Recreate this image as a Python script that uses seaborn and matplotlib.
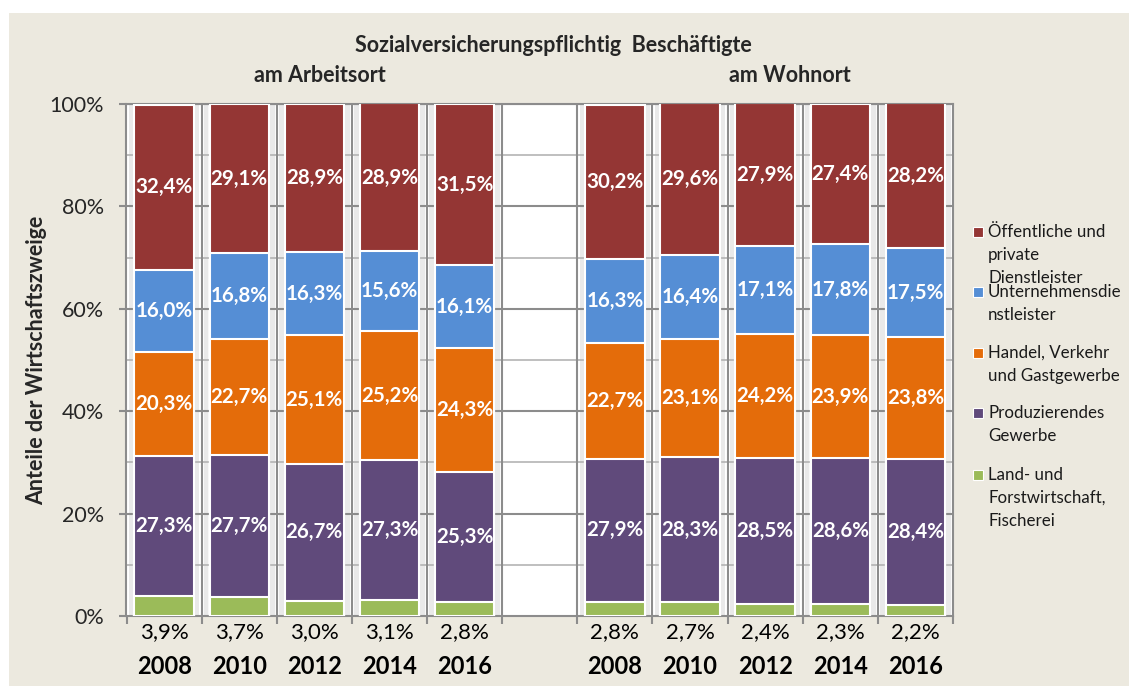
import matplotlib
matplotlib.use("Agg")
import matplotlib.pyplot as plt
from matplotlib.patches import Rectangle
import numpy as np
import pandas as pd
import seaborn as sns

# Shares of employment by economic sector (percent), workplace vs. residence
years = ["2008", "2010", "2012", "2014", "2016"]
groups = ["am Arbeitsort", "am Wohnort"]
sectors = [
    "Land- und\nForstwirtschaft,\nFischerei",
    "Produzierendes\nGewerbe",
    "Handel, Verkehr\nund Gastgewerbe",
    "Unternehmensdie\nnstleister",
    "Öffentliche und\nprivate\nDienstleister",
]
colors = ["#9BBB59", "#604A7B", "#E46C0A", "#558ED5", "#943634"]

agri_arbeit = [3.9, 3.7, 3.0, 3.1, 2.8]
prod_arbeit = [27.3, 27.7, 26.7, 27.3, 25.3]
handel_arbeit = [20.3, 22.7, 25.1, 25.2, 24.3]
unter_arbeit = [16.0, 16.8, 16.3, 15.6, 16.1]
oeff_arbeit = [32.4, 29.1, 28.9, 28.9, 31.5]

agri_wohn = [2.8, 2.7, 2.4, 2.3, 2.2]
prod_wohn = [27.9, 28.3, 28.5, 28.6, 28.4]
handel_wohn = [22.7, 23.1, 24.2, 23.9, 23.8]
unter_wohn = [16.3, 16.4, 17.1, 17.8, 17.5]
oeff_wohn = [30.2, 29.6, 27.9, 27.4, 28.2]

series = [
    agri_arbeit + agri_wohn,
    prod_arbeit + prod_wohn,
    handel_arbeit + handel_wohn,
    unter_arbeit + unter_wohn,
    oeff_arbeit + oeff_wohn,
]

slots_a = ["A" + y for y in years]
slots_w = ["W" + y for y in years]
slot_order = slots_a + ["gap"] + slots_w
bar_slots = slots_a + slots_w
bar_pos = [slot_order.index(s) for s in bar_slots]

vals = np.array(series) / 100.0
cum = np.cumsum(vals, axis=0)

sns.set_theme(style="white")
FONT = ["Lato", "DejaVu Sans"]
plt.rcParams["font.family"] = FONT

BG = "#ECE9DF"
fig = plt.figure(figsize=(11.29, 6.86), dpi=100)
fig.patch.set_facecolor("white")
fig.add_artist(Rectangle((9 / 1129, 0), 1 - 9 / 1129, 1 - 13 / 686,
                         transform=fig.transFigure, facecolor=BG,
                         edgecolor="none", zorder=-10))

ax = fig.add_axes([126.5 / 1129, 70 / 686, 826.5 / 1129, 512 / 686])
ax.set_facecolor("white")

# light shading around each bar
for p in bar_pos:
    ax.add_patch(Rectangle((p - 0.47, 0), 0.94, 1.0, facecolor="#e9e9e9",
                           edgecolor="none", zorder=0.3))
    ax.add_patch(Rectangle((p - 0.41, 0), 0.82, 1.0, facecolor="#f7f7f7",
                           edgecolor="none", zorder=0.35))

# gridlines: every 10 %, darker at the labelled 20 % steps
for v in np.arange(0.1, 1.0, 0.2):
    ax.axhline(v, color="#b4b4b4", lw=1.2, zorder=0.8)
for v in np.arange(0.2, 1.01, 0.2):
    ax.axhline(v, color="#8c8c8c", lw=1.5, zorder=0.85)
for b in np.arange(0.5, len(slot_order) - 0.5, 1.0):
    ax.axvline(b, color="#8c8c8c", lw=1.5, zorder=0.85)

# stacked bars: draw cumulative totals from the top segment downward
for k in range(len(series) - 1, -1, -1):
    df = pd.DataFrame({"slot": bar_slots, "cum": cum[k]})
    sns.barplot(data=df, x="slot", y="cum", order=slot_order, color=colors[k],
                saturation=1, width=0.79, edgecolor="white", linewidth=1.5,
                errorbar=None, ax=ax, zorder=2)

# value labels
for i, p in enumerate(bar_pos):
    for k in range(1, len(series)):
        mid = cum[k][i] - vals[k][i] / 2
        ax.text(p, mid, f"{series[k][i]:.1f}%".replace(".", ","),
                ha="center", va="center", color="white", fontsize=14.8,
                fontweight="bold", zorder=5)
    ax.text(p, -0.032, f"{series[0][i]:.1f}%".replace(".", ","),
            ha="center", va="center", color="black", fontsize=16,
            clip_on=False)
    ax.text(p, -0.098, years[i % 5], ha="center", va="center", color="black",
            fontsize=17, fontweight="bold", clip_on=False)

ax.set_xlim(-0.5, len(slot_order) - 0.5)
ax.set_ylim(0, 1)
ax.set_xticks(np.arange(-0.5, len(slot_order), 1.0))
ax.set_xticklabels([])
ax.set_yticks(np.arange(0, 1.01, 0.2))
ax.set_yticklabels([f"{int(round(v * 100))}%" for v in np.arange(0, 1.01, 0.2)],
                   fontsize=15.5)
ax.tick_params(axis="y", direction="out", length=5, width=1.5, color="#8c8c8c",
               pad=11, left=True)
ax.tick_params(axis="x", direction="out", length=6, width=1.5, color="#8c8c8c",
               bottom=True)
ax.set_xlabel("")
ax.set_ylabel("Anteile der Wirtschaftszweige", fontsize=15.5, fontweight="bold",
              va="center")
ax.yaxis.set_label_coords(-(126.5 - 37) / 826.5, 0.5)
for side in ["left", "bottom", "top", "right"]:
    ax.spines[side].set_visible(True)
    ax.spines[side].set_color("#8c8c8c")
    ax.spines[side].set_linewidth(1.5)
    ax.spines[side].set_zorder(0.9)

# titles
fig.text(553 / 1129, 1 - 45 / 686, "Sozialversicherungspflichtig  Beschäftigte",
         ha="center", va="center", fontsize=15.5, fontweight="bold")
fig.text(320 / 1129, 1 - 76 / 686, "am Arbeitsort", ha="center", va="center",
         fontsize=15.5, fontweight="bold")
fig.text(790 / 1129, 1 - 76 / 686, "am Wohnort", ha="center", va="center",
         fontsize=15.5, fontweight="bold")

# legend
legend_y = [232, 292, 353, 413, 475]
for k, (name, y) in enumerate(zip(sectors[::-1], legend_y)):
    col = colors[::-1][k]
    fig.add_artist(Rectangle((973 / 1129, 1 - (y + 5) / 686), 10 / 1129, 10 / 686,
                             transform=fig.transFigure, facecolor=col,
                             edgecolor="white", lw=0.8))
    for j, line in enumerate(name.split("\n")):
        fig.text(988 / 1129, 1 - (y + 23 * j) / 686, line, ha="left",
                 va="center", fontsize=12.2, color="#1a1a1a")

fig.savefig("out.png", dpi=100, facecolor=fig.get_facecolor())
